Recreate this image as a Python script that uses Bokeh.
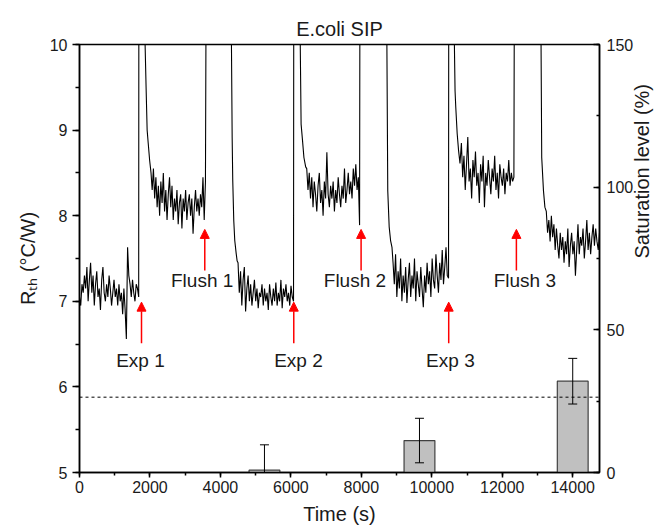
import numpy as np
from bokeh.plotting import figure
from bokeh.models import (Range1d, LinearAxis, Label, Arrow, NormalHead,
                          SingleIntervalTicker, Span)
from bokeh.embed import file_html
from bokeh.resources import INLINE

FONT = "Liberation Sans"

# ---------------- data ----------------
# noisy R_th plateaus (°C/W), each sampled evenly between start and end time (s)
plateau_start = [0, 2063, 4500, 6450, 8900, 10840, 13250]
plateau_end = [1680, 3575, 6075, 7950, 10475, 12330, 14760]

rth_p1 = [7.05, 6.95, 7.20, 7.10, 7.30, 7.15, 7.40, 7.00, 7.25, 7.45, 7.10, 7.30, 6.95,
          7.20, 7.35, 7.05, 7.15, 6.90, 7.25, 7.40, 7.10, 7.00, 7.20, 7.05, 7.30, 7.15,
          6.95, 7.10, 7.25, 7.05, 7.15, 6.95, 7.20, 7.00, 7.10, 6.85, 7.15, 6.90, 6.56,
          7.63, 7.30, 7.20, 7.05, 7.25, 7.10, 7.00, 7.20, 7.15, 7.05]
rth_p2 = [8.30, 8.55, 8.20, 8.45, 8.10, 8.35, 8.00, 8.40, 8.15, 8.50, 8.05, 8.30, 7.95,
          8.25, 8.45, 8.10, 8.35, 7.95, 8.20, 8.05, 8.30, 7.90, 8.15, 8.25, 7.85, 8.20,
          8.05, 8.30, 7.95, 8.15, 8.25, 8.00, 8.20, 7.79, 8.10, 8.30, 8.05, 8.20, 8.00,
          8.25, 8.10, 8.45, 7.95, 8.40]
rth_p3 = [7.45, 7.10, 7.35, 6.95, 7.25, 7.40, 6.88, 7.15, 7.30, 7.00, 7.20, 6.95, 7.10,
          7.25, 7.00, 7.15, 6.92, 7.10, 7.05, 7.20, 6.95, 7.15, 7.00, 7.10, 6.90, 7.20,
          7.05, 6.95, 7.15, 7.00, 7.22, 6.95, 7.10, 7.00, 7.25, 6.92, 7.15, 7.05, 7.20,
          7.00, 7.10, 6.95, 7.18, 7.05, 7.00]
rth_p4 = [8.55, 8.30, 8.50, 8.20, 8.45, 8.10, 8.40, 8.25, 8.05, 8.35, 8.50, 8.15, 8.30,
          8.00, 8.40, 8.20, 8.74, 8.25, 8.10, 8.35, 8.20, 8.40, 8.05, 8.30, 8.15, 8.45,
          8.25, 8.10, 8.35, 8.20, 8.55, 8.15, 8.30, 8.50, 8.25, 8.40, 8.20, 8.55, 8.35,
          8.60, 8.30, 8.45, 7.89]
rth_p5 = [7.45, 7.20, 7.55, 7.05, 7.35, 7.15, 7.50, 7.00, 7.30, 7.10, 7.40, 6.98, 7.25,
          7.45, 7.05, 7.30, 7.15, 7.50, 7.00, 7.35, 7.20, 7.05, 7.40, 7.15, 6.93, 7.30,
          7.10, 7.45, 7.20, 7.35, 7.05, 7.50, 7.25, 7.15, 7.55, 7.30, 7.10, 7.45, 7.25,
          7.60, 7.20, 7.40, 7.63, 7.30, 7.27]
rth_p6 = [8.85, 8.45, 8.70, 8.30, 8.60, 8.92, 8.40, 8.55, 8.20, 8.65, 8.45, 8.75, 8.35,
          8.50, 8.15, 8.60, 8.40, 8.70, 8.10, 8.50, 8.35, 8.65, 8.45, 8.25, 8.55, 8.40,
          8.70, 8.30, 8.50, 8.20, 8.60, 8.45, 8.35, 8.55, 8.25, 8.50, 8.40, 8.65, 8.35,
          8.50, 8.40, 8.45]
rth_p7 = [8.05, 7.80, 7.95, 7.70, 8.00, 7.75, 7.90, 7.60, 7.85, 7.65, 7.50, 7.80, 7.60,
          7.75, 7.45, 7.70, 7.55, 7.85, 7.40, 7.65, 7.80, 7.55, 7.70, 7.30, 7.60, 7.90,
          7.55, 7.75, 7.65, 7.85, 7.50, 7.70, 7.95, 7.60, 7.80, 7.55, 7.75, 7.90, 7.65,
          7.85, 7.70, 7.60, 7.80]
rth_plateaus = [rth_p1, rth_p2, rth_p3, rth_p4, rth_p5, rth_p6, rth_p7]

# time (s) at which the signal leaves the top of the scale (buffer exchange)
jump_t = [1685, 3595, 6082, 7960, 10481, 12344]
# relaxation back into range after each exchange: time (s) and R_th (°C/W)
decay_t = [[1862, 1890, 1920, 1950, 1990, 2030],
           [4313, 4333, 4350, 4379, 4407, 4447, 4475],
           [6266, 6290, 6330, 6370, 6420],
           [8725, 8750, 8790, 8830, 8870],
           [10641, 10660, 10680, 10720, 10760, 10800],
           [13101, 13120, 13170, 13210]]
decay_r = [[10.0, 9.5, 9.0, 8.85, 8.65, 8.5],
           [10.0, 8.92, 8.41, 7.94, 7.71, 7.56, 7.47],
           [10.0, 9.07, 8.88, 8.68, 8.57],
           [10.0, 8.29, 7.87, 7.71, 7.63],
           [10.0, 9.46, 9.27, 8.96, 8.76, 8.61],
           [10.0, 8.68, 8.29, 8.10]]
OFF_SCALE = 10.8

# events
exp_labels = ["Exp 1", "Exp 2", "Exp 3"]
exp_t = [1760, 6082, 10480]
flush_labels = ["Flush 1", "Flush 2", "Flush 3"]
flush_t = [3556, 7993, 12401]

# saturation bars (%)
bar_t = [5250, 9650, 14000]
bar_sat = [0.8, 11.2, 32.0]
bar_err = [8.9, 7.8, 8.0]
bar_width = 875
threshold_sat = 26.4

# ---------------- build trace ----------------
t_all, r_all = [], []
for i, vals in enumerate(rth_plateaus):
    ts = np.linspace(plateau_start[i], plateau_end[i], len(vals))
    t_all += list(ts)
    r_all += list(vals)
    if i < len(jump_t):
        t_all += [jump_t[i], decay_t[i][0]]
        r_all += [OFF_SCALE, OFF_SCALE]
        t_all += decay_t[i]
        r_all += decay_r[i]

# ---------------- figure ----------------
p = figure(width=667, height=527, x_range=Range1d(0, 14760), y_range=Range1d(5, 10),
           output_backend="svg", toolbar_location=None,
           min_border_left=79, min_border_right=68, min_border_top=44, min_border_bottom=55)
p.extra_y_ranges = {"sat": Range1d(0, 150)}
p.grid.visible = False
p.outline_line_color = "black"
p.outline_line_width = 1.5
p.background_fill_color = "white"
p.border_fill_color = "white"

xa = p.below[0]
ya = p.left[0]
right = LinearAxis(y_range_name="sat")
p.add_layout(right, "right")

for ax in [xa, ya, right]:
    ax.axis_line_width = 1.5
    ax.axis_line_color = "black"
    ax.major_tick_line_width = 1.5
    ax.minor_tick_line_width = 1.5
    ax.major_tick_line_color = "black"
    ax.minor_tick_line_color = "black"
    ax.major_label_text_font = FONT
    ax.major_label_text_font_size = "16px"
    ax.major_label_text_color = "#1a1a1a"
    ax.axis_label_text_font = FONT
    ax.axis_label_text_font_size = "20px"
    ax.axis_label_text_font_style = "normal"
    ax.axis_label_text_color = "#1a1a1a"

xa.ticker = SingleIntervalTicker(interval=2000, num_minor_ticks=2)
xa.major_tick_out = 5
xa.major_tick_in = 0
xa.minor_tick_out = 3
xa.minor_tick_in = 0
xa.major_label_standoff = 3
xa.axis_label = "Time (s)"
xa.axis_label_standoff = 7

ya.ticker = SingleIntervalTicker(interval=1, num_minor_ticks=2)
ya.major_tick_out = 7
ya.major_tick_in = 0
ya.minor_tick_out = 4
ya.minor_tick_in = 0
ya.major_label_standoff = 5
ya.axis_label = "R\u209c\u2095 (°C/W)"
ya.axis_label_standoff = 8

right.ticker = SingleIntervalTicker(interval=50, num_minor_ticks=2)
right.major_tick_out = 0
right.major_tick_in = 6
right.minor_tick_out = 0
right.minor_tick_in = 3
right.major_label_standoff = 7
right.axis_label = "Saturation level (%)"
right.axis_label_standoff = 6
right.axis_label_orientation = np.pi / 2

p.title.text = "E.coli SIP"
p.title.align = "center"
p.title.offset = 14
p.title.text_font = FONT
p.title.text_font_size = "20px"
p.title.text_font_style = "normal"
p.title.text_color = "#1a1a1a"

# threshold line
p.add_layout(Span(location=threshold_sat, dimension="width", y_range_name="sat",
                  line_color="black", line_width=1, line_dash="3 3"))

# bars + error bars
p.vbar(x=bar_t, top=bar_sat, bottom=0, width=bar_width, y_range_name="sat",
       fill_color="#c0c0c0", line_color="#404040", line_width=1.2)
up = [v + e for v, e in zip(bar_sat, bar_err)]
lo = [v - e for v, e in zip(bar_sat, bar_err)]
p.segment(x0=bar_t, y0=lo, x1=bar_t, y1=up, y_range_name="sat", line_color="black", line_width=1)
p.scatter(x=bar_t, y=up, marker="dash", size=9, y_range_name="sat", line_color="black", line_width=1)
p.scatter(x=bar_t, y=lo, marker="dash", size=9, y_range_name="sat", line_color="black", line_width=1)

# trace
p.line(t_all, r_all, line_color="black", line_width=1.1)

# arrows and labels
exp_dx = [-29, 133, 48]
flush_dx = [-74, -175, 241]
for t, lab, dx in zip(exp_t, exp_labels, exp_dx):
    p.add_layout(Arrow(x_start=t, y_start=6.51, x_end=t, y_end=6.99,
                       end=NormalHead(size=9, fill_color="red", line_color="red", line_width=1),
                       line_color="red", line_width=1.5))
    p.add_layout(Label(x=t + dx, y=6.31, text=lab, text_align="center", text_baseline="middle",
                       text_font=FONT, text_font_size="19px", text_color="#1a1a1a"))
for t, lab, dx in zip(flush_t, flush_labels, flush_dx):
    p.add_layout(Arrow(x_start=t, y_start=7.36, x_end=t, y_end=7.84,
                       end=NormalHead(size=9, fill_color="red", line_color="red", line_width=1),
                       line_color="red", line_width=1.5))
    p.add_layout(Label(x=t + dx, y=7.24, text=lab, text_align="center", text_baseline="middle",
                       text_font=FONT, text_font_size="19px", text_color="#1a1a1a"))

open("out.html", "w").write(file_html(p, INLINE))
